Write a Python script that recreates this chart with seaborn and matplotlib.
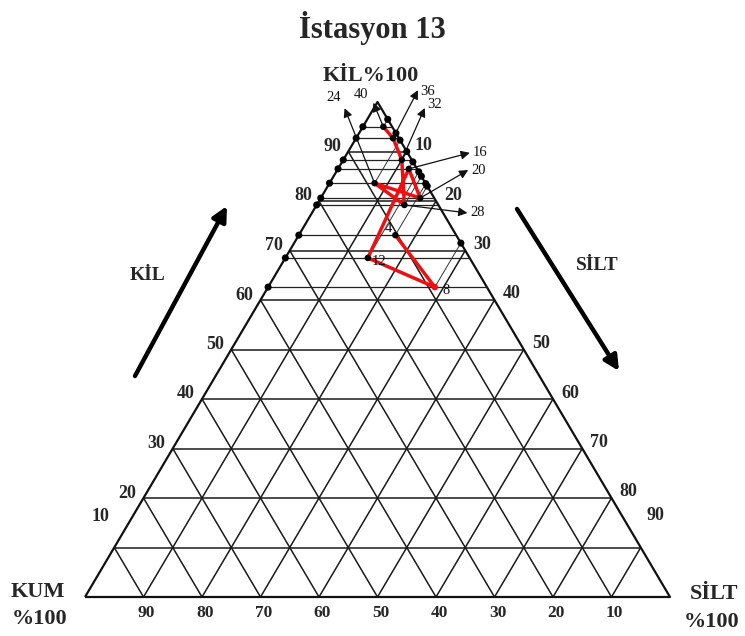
import numpy as np
import pandas as pd
import seaborn as sns
import matplotlib
matplotlib.use("Agg")
import matplotlib.pyplot as plt
from matplotlib.collections import LineCollection

# ---------------- data ----------------
depths = [4, 8, 12, 16, 20, 24, 28, 32, 36, 40]
clay = [73.1, 62.6, 68.5, 86.5, 80.6, 83.6, 79.2, 88.3, 92.7, 95.0]   # KİL %
silt = [16.5, 28.5, 14.1, 12.1, 17.0, 7.7, 15.0, 10.0, 6.3, 3.5]      # SİLT %
ticks = [10, 20, 30, 40, 50, 60, 70, 80, 90]

title = "İstasyon 13"
apex_label = "KİL%100"
left_label = "KİL"
right_label = "SİLT"
corner_left = ["KUM", "%100"]
corner_right = ["SİLT", "%100"]

# ---------------- style ----------------
sns.set_style("white")
plt.rcParams["font.family"] = ["Liberation Serif", "DejaVu Serif"]

X0, Y0, W, H = 85.0, 597.0, 585.0, 495.0


def tern(c, s):
    c = np.asarray(c, dtype=float)
    s = np.asarray(s, dtype=float)
    return X0 + (s + c / 2.0) / 100.0 * W, Y0 - c / 100.0 * H


fig = plt.figure(figsize=(7.45, 6.36), dpi=100)
ax = fig.add_axes([0, 0, 1, 1])
ax.set_xlim(0, 745)
ax.set_ylim(636, 0)
ax.axis("off")

# grid lines
segs = []
for v in ticks:
    segs.append([tern(v, 0), tern(v, 100 - v)])            # constant clay
    segs.append([tern(0, v), tern(100 - v, v)])            # constant silt
    segs.append([tern(0, 100 - v), tern(100 - v, 0)])      # constant sand
ax.add_collection(LineCollection(segs, colors="#1a1a1a", linewidths=1.1, zorder=1))
outline = [tern(0, 0), tern(0, 100), tern(100, 0), tern(0, 0)]
ax.add_collection(LineCollection([outline], colors="#111111", linewidths=1.6, zorder=2))

# construction lines for samples
cons_h = [[tern(c, 0), tern(c, 100 - c)] for c in clay]
ax.add_collection(LineCollection(cons_h, colors="#222222", linewidths=0.9, zorder=2))
cons_s = [[tern(100 - s, s), tern(c, s)] for c, s in zip(clay, silt)]
ax.add_collection(LineCollection(cons_s, colors="#333333", linewidths=0.7, zorder=2))

lx, ly = tern(clay, [0] * len(clay))
rx, ry = tern([100 - s for s in silt], silt)
edge = pd.DataFrame({"x": np.concatenate([lx, rx]), "y": np.concatenate([ly, ry])})
sns.scatterplot(data=edge, x="x", y="y", color="black", s=26, edgecolor="none", ax=ax, zorder=4)

# sample path
px, py = tern(clay, silt)
df = pd.DataFrame({"depth": depths, "x": px, "y": py})
sns.lineplot(data=df, x="x", y="y", sort=False, estimator=None, color="#ee1010",
             linewidth=2.5, ax=ax, zorder=5)
pt_colors = ["#ee1010" if d == 8 else "black" for d in depths]
ax.scatter(df["x"], df["y"], c=pt_colors, s=22, zorder=6, edgecolors="none")
ax.set_xlim(0, 745)
ax.set_ylim(636, 0)
ax.set_xlabel("")
ax.set_ylabel("")

# sample labels with arrows
arrow_off = {24: (-30, -75), 40: (-10, -24), 36: (25, -48), 32: (23, -52),
             16: (61, -16), 20: (48, -28), 28: (63, 8)}
text_off = {24: (-11, -11, "center"), 40: (-12, -8, "center"), 36: (2, 1, "left"),
            32: (2, -3, "left"), 16: (3, 0, "left"), 20: (3, 0, "left"), 28: (3, 0, "left")}
plain_off = {4: (-7, -7), 8: (11, 3), 12: (11, 4)}
for d, x, y in zip(depths, px, py):
    if d in arrow_off:
        dx, dy = arrow_off[d]
        ax.annotate("", xy=(x + dx, y + dy), xytext=(x, y),
                    arrowprops=dict(arrowstyle="-|>", color="#111111", lw=0.9,
                                    mutation_scale=13, shrinkA=0, shrinkB=0), zorder=7)
        tx, ty, ha = text_off[d]
        ax.text(x + dx + tx, y + dy + ty, str(d), fontsize=10.5, ha=ha, va="center",
                color="#111111", zorder=8)
    else:
        dx, dy = plain_off[d]
        ax.text(x + dx, y + dy, str(d), fontsize=10.5, ha="center", va="center",
                color="#111111", zorder=8)

# axis tick labels
for v in ticks:
    lift = -31 if v == 10 else -5
    x, y = tern(v, 0)
    ax.text(x - (14 if v == 10 else 16), y + lift, str(v), fontsize=13, fontweight="bold",
            ha="center", va="center")
    lift = -32 if v == 90 else -6
    x, y = tern(100 - v, v)
    ax.text(x + (15 if v == 90 else 17), y + lift, str(v), fontsize=13, fontweight="bold",
            ha="center", va="center")
    x, y = tern(0, 100 - v)
    ax.text(x + 3, y + 16, str(v), fontsize=12.5, fontweight="bold", ha="center", va="center")

# titles and corner labels
ax.text(372, 28, title, fontsize=22, fontweight="bold", ha="center", va="center")
ax.text(371, 76, apex_label, fontsize=16, fontweight="bold", ha="center", va="center")
ax.text(38, 592, corner_left[0], fontsize=16, fontweight="bold", ha="center", va="center")
ax.text(40, 619, corner_left[1], fontsize=16, fontweight="bold", ha="center", va="center")
ax.text(714, 594, corner_right[0], fontsize=16, fontweight="bold", ha="center", va="center")
ax.text(712, 622, corner_right[1], fontsize=16, fontweight="bold", ha="center", va="center")

# side labels and arrows
ax.text(148, 276, left_label, fontsize=14, fontweight="bold", ha="center", va="center")
ax.text(597, 266, right_label, fontsize=14, fontweight="bold", ha="center", va="center")
ax.annotate("", xy=(227, 206), xytext=(135, 376),
            arrowprops=dict(arrowstyle="-|>", color="black", lw=3.2, mutation_scale=22,
                            shrinkA=0, shrinkB=0))
ax.annotate("", xy=(619, 371), xytext=(517, 209),
            arrowprops=dict(arrowstyle="-|>", color="black", lw=3.2, mutation_scale=22,
                            shrinkA=0, shrinkB=0))

fig.savefig("out.png", dpi=100, facecolor="white")
